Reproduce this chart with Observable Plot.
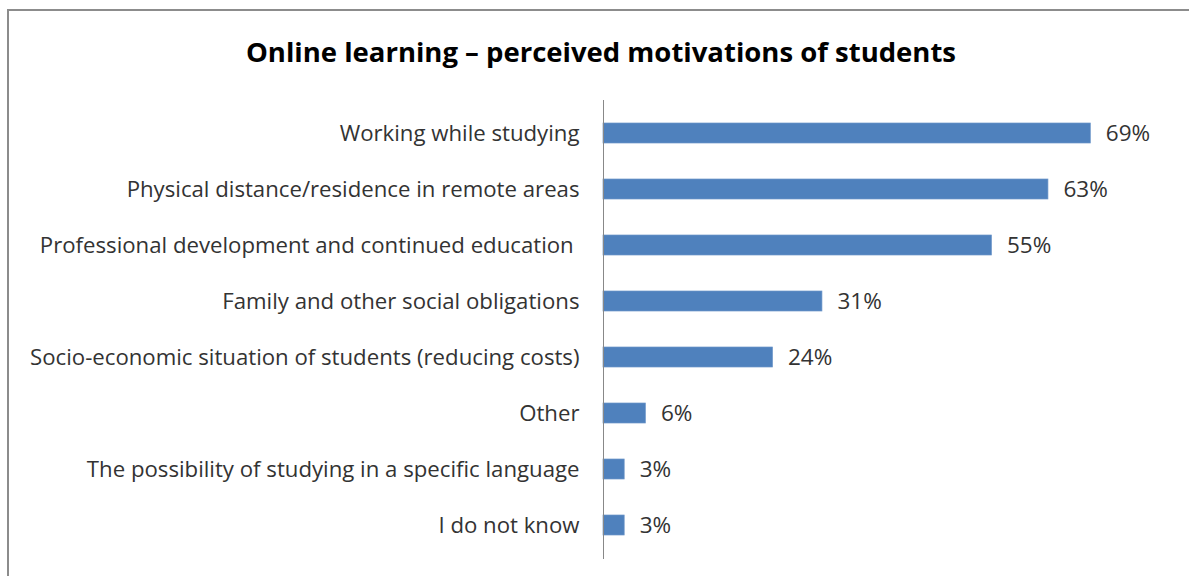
<!DOCTYPE html>
<html>
<head>
<meta charset="utf-8">
<script src="https://cdn.jsdelivr.net/npm/d3@7"></script>
<script src="https://cdn.jsdelivr.net/npm/@observablehq/plot@0.6"></script>
<style>
  html, body { margin: 0; padding: 0; background: #fff; }
  #wrap { position: relative; width: 1189px; height: 576px; overflow: hidden; }
  #frame { position: absolute; left: 7px; top: 9px; width: 1300px; height: 700px;
           border-top: 2px solid #8c8c8c; border-left: 2px solid #8c8c8c; box-sizing: border-box; }
  #title { position: relative; width: 1202px; height: 80px; box-sizing: border-box; padding-top: 36px;
           line-height: 32px; text-align: center; font-family: "Open Sans", sans-serif; font-weight: bold;
           font-size: 27.5px; color: #000; }
  #chart { position: relative; }
  #chart svg text { white-space: pre; }
</style>
</head>
<body>
<div id="wrap">
  <div id="frame"></div>
  <div id="title">Online learning – perceived motivations of students</div>
  <div id="chart"></div>
</div>
<script>
const categories = [
  "Working while studying",
  "Physical distance/residence in remote areas",
  "Professional development and continued education ",
  "Family and other social obligations",
  "Socio-economic situation of students (reducing costs)",
  "Other",
  "The possibility of studying in a specific language",
  "I do not know"
];
const values = [69, 63, 55, 31, 24, 6, 3, 3];
const valueLabels = ["69%", "63%", "55%", "31%", "24%", "6%", "3%", "3%"];

const data = categories.map((c, i) => ({category: c, value: values[i], label: valueLabels[i]}));

const chart = Plot.plot({
  width: 1189,
  height: 496,
  marginLeft: 603,
  marginRight: 21,
  marginTop: 20,
  marginBottom: 17,
  style: { fontFamily: "'Open Sans', sans-serif", fontSize: "22px", color: "#333", background: "transparent" },
  x: { domain: [0, 80], axis: null },
  y: { domain: categories, paddingInner: 0.64, paddingOuter: 0.367, label: null },
  marks: [
    Plot.barX(data, { x: "value", y: "category", fill: "#4f81bd", stroke: "#6d96c9", strokeWidth: 0.7 }),
    Plot.text(data, { x: "value", y: "category", text: "label", textAnchor: "start", dx: 15,
                      fontSize: 22.5, fill: "#333" }),
    Plot.ruleX([0], { stroke: "#888", strokeWidth: 1 }),
    Plot.axisY({ tickSize: 0, tickPadding: 24, fontSize: 22.2, fill: "#333", label: null })
  ]
});
document.getElementById("chart").appendChild(chart);
</script>
</body>
</html>
